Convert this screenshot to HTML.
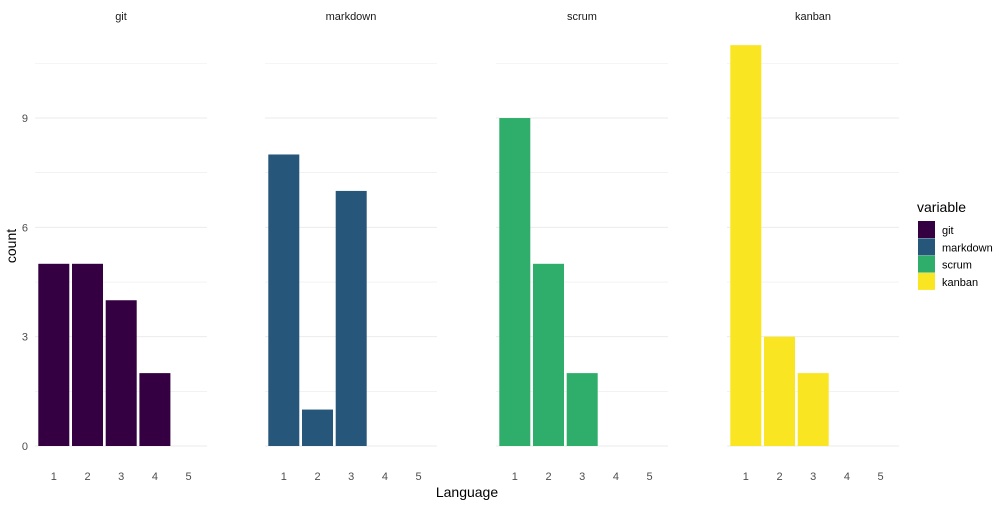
<!DOCTYPE html>
<html><head><meta charset="utf-8"><style>
body{margin:0;background:#fff;font-family:"Liberation Sans",sans-serif}
svg text{font-family:"Liberation Sans",sans-serif}
</style></head><body>
<svg id="chart" width="1008" height="504" xmlns="http://www.w3.org/2000/svg"></svg>
<script>
const panels = ["git","markdown","scrum","kanban"];
const colors = ["#340042","#265679","#2eae6a","#fae522"];
const categories = [1,2,3,4,5];
const gitValues = [5,5,4,2,0];
const markdownValues = [8,1,7,0,0];
const scrumValues = [9,5,2,0,0];
const kanbanValues = [11,3,2,0,0];
const yTicks = [0,3,6,9];
const allValues = [gitValues, markdownValues, scrumValues, kanbanValues];

const NS = "http://www.w3.org/2000/svg";
const svg = document.getElementById("chart");
function mk(tag, attrs, parent){const e=document.createElementNS(NS,tag);for(const k in attrs)e.setAttribute(k,attrs[k]);(parent||svg).appendChild(e);return e;}
const panelX0 = [35,265,496,727], panelW = 172;
const y0 = 446, yScale = 36.44;
const y = v => y0 - v*yScale;
const x = (p,c) => panelX0[p] + 18.8 + (c - 1) * 33.7;

panels.forEach((name,p)=>{
  const g = mk("g",{});
  
  
  for(let v=0; v<=10.5; v+=1.5){
    const l = mk("line",{x1:panelX0[p],x2:panelX0[p]+panelW,y1:y(v),y2:y(v),stroke:"#ebebeb","stroke-width":v%3===0?1:0.6},g);
    
    
  }
  const t = mk("text",{x:panelX0[p]+panelW/2,y:20,"font-size":11,"text-anchor":"middle",fill:"#1a1a1a"},g);
  t.textContent = name;
  
  
  categories.forEach((c,i)=>{
    const v = allValues[p][i];
    if(v>0){
      const r = mk("rect",{x:x(p,c)-15.5,y:y(v),width:31,height:v*yScale,fill:colors[p]},g);
      
      
    }
    const tl = mk("text",{x:x(p,c),y:480,"font-size":11,"text-anchor":"middle",fill:"#4d4d4d"},g);
    tl.textContent = c;
    
    
  });
});
yTicks.forEach(v=>{
  const t = mk("text",{x:28,y:y(v)+4,"font-size":11,"text-anchor":"end",fill:"#4d4d4d"});
  t.textContent = v;
  
  
});
const xt = mk("text",{x:467,y:497,"font-size":14,"text-anchor":"middle",fill:"#000"});
xt.textContent = "Language";


const yt = mk("text",{x:16,y:246,"font-size":14,"text-anchor":"middle",fill:"#000",transform:"rotate(-90 16 246)"});
yt.textContent = "count";


const lt = mk("text",{x:917,y:212,"font-size":14,fill:"#000"});
lt.textContent = "variable";


panels.forEach((name,i)=>{
  const r = mk("rect",{x:918,y:221+i*17.3,width:17,height:17,fill:colors[i]});
  
  
  const t = mk("text",{x:942,y:234+i*17.3,"font-size":11,fill:"#000"});
  t.textContent = name;
  
  
});
</script>
</body></html>
